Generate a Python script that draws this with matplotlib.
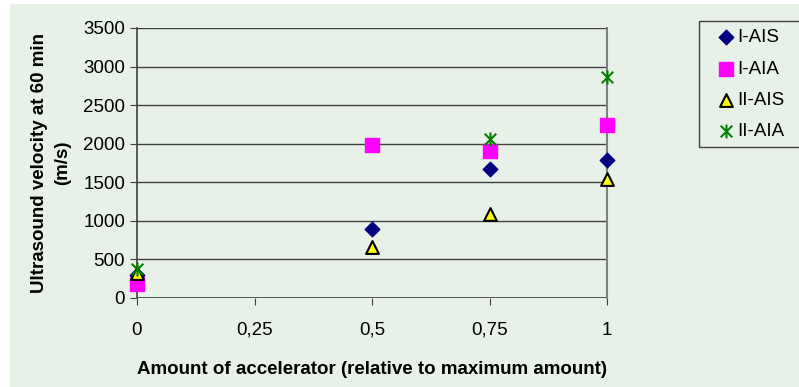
import matplotlib.pyplot as plt
from matplotlib.path import Path
from matplotlib.patches import Rectangle

plt.rcParams['font.family'] = ['Liberation Sans', 'DejaVu Sans']

# ===== DADOS =====
x_vals = [0, 0.5, 0.75, 1]
i_ais = [300, 890, 1675, 1790]
i_aia = [180, 1980, 1900, 2245]
ii_ais = [330, 660, 1090, 1540]
ii_aia_x = [0, 0.75, 1]
ii_aia = [375, 2060, 2870]

x_ticks = [0, 0.25, 0.5, 0.75, 1]
x_tick_labels = ["0", "0,25", "0,5", "0,75", "1"]
y_ticks = [0, 500, 1000, 1500, 2000, 2500, 3000, 3500]

fundo = "#e8f1e8"
fs = 13.5

# marcador estrela (X com traço vertical)
estrela = Path(
    [(-1, -1), (1, 1), (-1, 1), (1, -1), (0, -1.2), (0, 1.2)],
    [Path.MOVETO, Path.LINETO, Path.MOVETO, Path.LINETO, Path.MOVETO, Path.LINETO],
)

# ===== GRÁFICO =====
fig = plt.figure(figsize=(7.99, 3.87), dpi=100)
fig.patch.set_facecolor("white")
fig.patches.append(Rectangle((10 / 799, 0), 1, 1 - 4 / 387, transform=fig.transFigure,
                             facecolor=fundo, edgecolor="none", zorder=-10))
# moldura da legenda (passa da borda direita)
fig.patches.append(Rectangle((699 / 799, 1 - 147 / 387), 120 / 799, 126 / 387,
                             transform=fig.transFigure, facecolor="none",
                             edgecolor="#404040", linewidth=1, zorder=-5))
ax = fig.add_axes([137 / 799, 1 - 298 / 387, 470 / 799, 270 / 387])
ax.set_facecolor(fundo)

ax.scatter(x_vals, i_ais, marker="D", s=55, color="#000080", label="I-AIS", zorder=3, clip_on=False)
ax.scatter(x_vals, i_aia, marker="s", s=95, color="#ff00ff", label="I-AIA", zorder=3, clip_on=False)
ax.scatter(x_vals, ii_ais, marker="^", s=85, facecolor="#ffff00", edgecolor="black",
           linewidth=1.5, label="II-AIS", zorder=3, clip_on=False)
ax.scatter(ii_aia_x, ii_aia, marker=estrela, s=100, color="#008000", linewidth=1.5,
           label="II-AIA", zorder=3, clip_on=False)

ax.set_xlim(0, 1)
ax.set_ylim(0, 3500)
ax.set_xticks(x_ticks)
ax.set_xticklabels(x_tick_labels)
ax.set_yticks(y_ticks)
ax.grid(True, axis="y", color="#404040", linewidth=1)
ax.set_axisbelow(True)

for lado in ["top", "bottom"]:
    ax.spines[lado].set_visible(False)
ax.spines["left"].set_color("#404040")
ax.spines["right"].set_color("#808080")
ax.spines["left"].set_linewidth(1.2)
ax.spines["right"].set_linewidth(1.5)
ax.axhline(0, color="#404040", linewidth=1.2, zorder=1)

ax.tick_params(axis="both", direction="out", length=5, color="#404040", labelsize=fs)
ax.tick_params(axis="x", pad=12)

ax.set_xlabel("Amount of accelerator (relative to maximum amount)", fontsize=fs,
              fontweight="bold", labelpad=16)
ax.set_ylabel("Ultrasound velocity at 60 min\n(m/s)", fontsize=fs, fontweight="bold",
              labelpad=9, linespacing=1.45)

leg = ax.legend(loc="upper left", bbox_to_anchor=(717 / 799, 1 - 29 / 387),
                bbox_transform=fig.transFigure, fontsize=fs, frameon=False,
                handletextpad=0.1, handlelength=1.0, borderpad=0,
                labelspacing=0.76, borderaxespad=0)

# ===== SALVAR =====
fig.savefig("out.png", dpi=100)
